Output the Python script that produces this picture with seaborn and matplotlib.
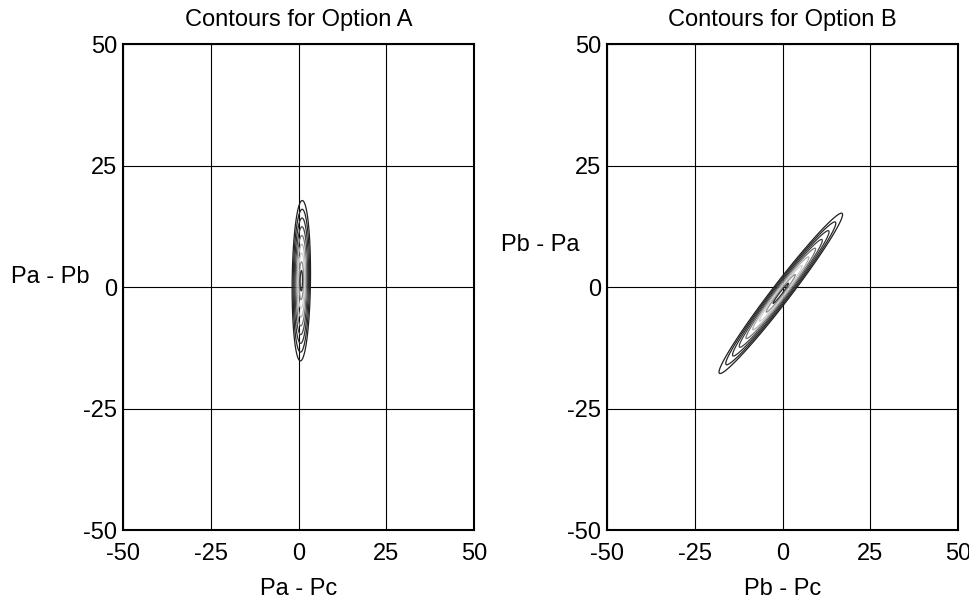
import numpy as np
import matplotlib
matplotlib.use("Agg")
import matplotlib.pyplot as plt
import seaborn as sns
from matplotlib.colors import LinearSegmentedColormap

sns.set_style("white")
plt.rcParams['font.family'] = ['Liberation Sans', 'DejaVu Sans']
plt.rcParams['axes.unicode_minus'] = False
plt.rcParams['text.color'] = 'black'
plt.rcParams['xtick.color'] = 'black'
plt.rcParams['ytick.color'] = 'black'
plt.rcParams['axes.labelcolor'] = 'black'

# Distribution parameters (mean x, mean y, sd x, sd y, corr)
titles = ["Contours for Option A", "Contours for Option B"]
xlabels = ["Pa - Pc", "Pb - Pc"]
ylabels = ["Pa - Pb", "Pb - Pa"]
mean_x = [0.8, -0.5]
mean_y = [1.3, -1.3]
sd_x = [0.95, 6.4]
sd_y = [6.0, 6.0]
corr = [0.1, 0.982]
# contour radii (in sigma units) of the drawn levels
level_sigmas = [2.75, 2.45, 2.15, 1.85, 1.55, 1.25, 0.95, 0.65, 0.35]
ticks = [-50, -25, 0, 25, 50]
ylabel_pos = [(-0.208, 0.52), (-0.19, 0.586)]

cmap = LinearSegmentedColormap.from_list(
    "g", ["#202020", "#404040", "#808080", "#b8b8b8", "#d0d0d0", "#a0a0a0", "#303030"])

fig = plt.figure(figsize=(9.7, 6.04), dpi=100)
positions = [[0.1268, 0.1225, 0.3619, 0.8046], [0.6258, 0.1225, 0.3619, 0.8046]]

g = np.linspace(-50, 50, 801)
X, Y = np.meshgrid(g, g)
for i in range(2):
    ax = fig.add_axes(positions[i])
    dx = (X - mean_x[i]) / sd_x[i]
    dy = (Y - mean_y[i]) / sd_y[i]
    r = corr[i]
    q = (dx**2 - 2 * r * dx * dy + dy**2) / (1 - r**2)
    Z = np.exp(-q / 2)
    levels = sorted(np.exp(-np.array(level_sigmas) ** 2 / 2))
    ax.contour(X, Y, Z, levels=levels, cmap=cmap, linewidths=0.9)
    ax.set_xlim(-50, 50)
    ax.set_ylim(-50, 50)
    ax.set_xticks(ticks)
    ax.set_yticks(ticks)
    ax.grid(True, color="black", linewidth=0.8)
    ax.set_axisbelow(True)
    for s in ax.spines.values():
        s.set_visible(True)
        s.set_color("black")
        s.set_linewidth(1.5)
    ax.tick_params(axis="x", labelsize=17, length=0, pad=9)
    ax.tick_params(axis="y", labelsize=17, length=0, pad=4)
    ax.set_title(titles[i], fontsize=17, pad=13)
    ax.set_xlabel(xlabels[i], fontsize=17, labelpad=10)
    ax.text(ylabel_pos[i][0], ylabel_pos[i][1], ylabels[i], transform=ax.transAxes,
            fontsize=17, ha="center", va="center")

fig.savefig("out.png", dpi=100)
